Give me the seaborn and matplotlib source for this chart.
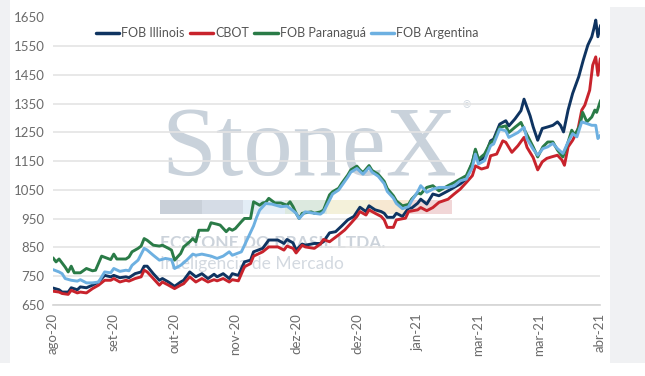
import pandas as pd
import numpy as np
import matplotlib.pyplot as plt
import seaborn as sns
from matplotlib.patches import Rectangle

#################################################################
# Dados - eixo x em dias de pregao
series = ['FOB Illinois', 'CBOT', 'FOB Paranaguá', 'FOB Argentina']
cores = ['#0f3461', '#c8232c', '#2a7b47', '#6db0e1']
tick_dias = [0, 20, 40, 60, 80, 100, 120, 140, 160, 180]
tick_labels = ['ago-20', 'set-20', 'out-20', 'nov-20', 'dez-20',
               'dez-20', 'jan-21', 'mar-21', 'mar-21', 'abr-21']

dias_illinois = [0, 2, 3, 5, 6, 8, 9, 11, 13, 15, 17, 19, 20, 22, 24, 25, 27, 29, 30, 31,
                 33, 35, 36, 38, 40, 42, 43, 45, 47, 49, 51, 53, 54, 56, 58, 59, 61, 63, 65, 66,
                 69, 71, 74, 76, 77, 79, 80, 82, 83, 86, 88, 89, 91,
                 93, 95, 97, 99, 101, 103, 104, 106, 108, 109, 110, 112, 113, 115, 117, 118, 120,
                 121, 123, 125, 127, 130, 132, 134, 136, 138, 139, 140, 142, 144, 145, 147, 149,
                 150, 152, 154, 155, 157,
                 158, 159.5, 161, 163, 164.5, 166, 167, 168, 169.5, 171, 173, 174.5, 176, 177.3,
                 178, 178.6, 179.3, 180.2]
fob_illinois = [709, 703, 695, 695, 710, 703, 713, 710, 719, 730, 753, 748, 753, 745, 748, 745, 759, 765, 785, 785,
                759, 736, 742, 730, 715, 730, 736, 765, 748, 759, 742, 757, 748, 759, 742, 759, 753, 800, 806, 835,
                847, 876, 876, 864, 878, 866, 841, 862, 858, 864, 864, 870, 901,
                905, 925, 946, 958, 990, 975, 995, 981, 975, 969, 955, 955, 969, 958, 987, 987, 1004,
                1018, 1001, 1036, 1030, 1047, 1059, 1071, 1088, 1146, 1187, 1152, 1163, 1221, 1227, 1279, 1291,
                1273, 1297, 1326, 1366, 1308,
                1270, 1223, 1264, 1270, 1275, 1287, 1275, 1252, 1328, 1386, 1444, 1502, 1554, 1583,
                1612, 1641, 1583, 1623]

dias_cbot = [0, 2, 3, 5, 6, 8, 9, 11, 13, 15, 17, 19, 20, 22, 24, 25, 27, 29, 30, 31,
             33, 35, 36, 38, 40, 42, 43, 45, 47, 49, 51, 53, 54, 56, 58, 59, 61, 63, 65, 66,
             69, 71, 74, 76, 77, 79, 80, 82, 83, 86, 88, 89, 91,
             94, 96, 98, 100, 101, 103, 104, 106, 108, 109, 110, 112, 113, 116, 117, 120,
             121, 123, 125, 127, 130, 132, 134, 136, 138, 139, 141, 143, 144, 146, 148, 149,
             151, 153, 155, 156, 158,
             159.5, 161, 162.5, 164, 166, 167.5, 168.3, 169.5, 171, 172.7, 174, 175, 176.6,
             177.6, 178.6, 179.3, 180.1]
cbot = [698, 695, 690, 687, 701, 692, 695, 692, 707, 719, 736, 736, 742, 730, 736, 733, 742, 748, 771, 765,
        742, 719, 730, 719, 707, 719, 724, 748, 730, 742, 730, 738, 734, 742, 730, 738, 734, 783, 794, 820,
        835, 852, 852, 841, 855, 847, 831, 858, 852, 847, 862, 878, 870,
        894, 911, 934, 958, 975, 963, 981, 969, 958, 946, 920, 920, 946, 952, 975, 981,
        989, 978, 989, 1007, 1018, 1036, 1053, 1076, 1100, 1134, 1123, 1129, 1169, 1175, 1221, 1216,
        1181, 1204, 1233, 1198, 1163,
        1120, 1148, 1160, 1165, 1171, 1154, 1136, 1200, 1223, 1258, 1328, 1345, 1397,
        1484, 1513, 1449, 1507]

dias_paranagua = [0, 1, 2, 4, 5, 6, 7, 9, 11, 13, 14, 16, 18, 19, 20, 21, 24, 25, 26, 28,
                  29, 30, 31, 33, 35, 36, 38, 39, 40, 42, 43, 45, 46, 47, 48, 51, 52, 54, 55, 57,
                  58, 59, 60, 62, 63, 65, 66, 68, 69, 70, 71, 73, 75, 77, 78, 79, 80, 81, 82, 85,
                  86, 88, 89, 91,
                  92, 94, 95, 97, 98, 100, 101, 102, 104, 105, 107, 109, 110, 112, 113, 115, 117, 118, 120,
                  121, 123, 125, 127, 130, 132, 134, 136, 138, 139, 140, 142, 144, 145, 147, 149,
                  150, 152, 154, 155, 157,
                  158, 159.5, 161.2, 162.8, 164.5, 166, 167.8, 169.5, 170.7, 171.7, 173.4, 174.3,
                  175.7, 177.3, 178.3, 178.9, 180.2]
fob_paranagua = [814, 800, 810, 782, 765, 785, 762, 762, 777, 769, 771, 820, 812, 808, 827, 810, 810, 817, 835, 847,
                 855, 881, 875, 858, 855, 858, 847, 841, 806, 829, 852, 870, 881, 870, 910, 910, 936, 931, 928, 905,
                 916, 910, 916, 940, 951, 951, 1009, 997, 1005, 1007, 1021, 1005, 1005, 997, 1009, 992, 969, 951, 969, 974,
                 969, 974, 980, 1033,
                 1044, 1056, 1073, 1102, 1120, 1133, 1120, 1110, 1135, 1118, 1105, 1080, 1055, 1030, 1012, 995, 1000, 1018, 1040,
                 1036, 1059, 1065, 1047, 1065, 1076, 1088, 1100, 1146, 1192, 1157, 1175, 1216, 1221, 1268, 1273,
                 1250, 1268, 1285, 1262, 1221,
                 1200, 1165, 1200, 1217, 1217, 1189, 1165, 1217, 1258, 1241, 1275, 1320,
                 1287, 1304, 1328, 1320, 1362]

dias_argentina = [0, 2, 3, 4, 6, 8, 9, 11, 13, 15, 17, 19, 20, 22, 24, 25, 26, 28, 30, 31,
                  33, 35, 37, 39, 40, 42, 44, 46, 47, 49, 52, 54, 56, 58, 59, 60, 62, 64, 66, 67,
                  68, 70, 72, 75, 77, 79, 80, 81, 83, 86, 88, 89, 91,
                  92, 94, 95, 97, 98, 100, 101, 102, 104, 105, 107, 109, 110, 112, 113, 115, 117, 118, 120,
                  121, 123, 125, 127, 130, 132, 134, 136, 138, 139, 140, 142, 144, 145, 147, 149,
                  150, 153, 155, 156,
                  158, 159.5, 161.2, 162.8, 164.5, 166, 167.8, 169.5, 171, 172.4, 174, 175.7,
                  177.3, 178.6, 179.3, 180.2]
fob_argentina = [773, 765, 759, 742, 736, 733, 738, 727, 727, 730, 765, 762, 777, 767, 771, 769, 788, 806, 847, 841,
                 823, 806, 812, 808, 777, 788, 806, 827, 823, 827, 820, 812, 820, 835, 823, 827, 835, 880, 925, 955,
                 980, 1003, 1001, 992, 994, 978, 969, 951, 974, 969, 966, 974, 1015,
                 1036, 1050, 1065, 1095, 1112, 1125, 1115, 1105, 1128, 1112, 1098, 1072, 1045, 1022, 1003, 985, 992, 1012, 1044,
                 1065, 1042, 1053, 1059, 1059, 1065, 1082, 1088, 1129, 1175, 1140, 1152, 1204, 1210, 1262, 1256,
                 1233, 1250, 1268, 1227,
                 1192, 1171, 1194, 1200, 1212, 1194, 1177, 1217, 1246, 1235, 1287, 1281,
                 1275, 1275, 1229, 1241]
#################################################################

frames = []
for nome, dias, valores in zip(series,
                               [dias_illinois, dias_cbot, dias_paranagua, dias_argentina],
                               [fob_illinois, cbot, fob_paranagua, fob_argentina]):
    frames.append(pd.DataFrame({'dia': dias, 'valor': valores, 'serie': nome}))
df = pd.concat(frames, ignore_index=True)

sns.set_style('white')
plt.rcParams['font.family'] = ['Lato', 'DejaVu Sans']

fig = plt.figure(figsize=(6.45, 3.76), dpi=100)
fig.patch.set_facecolor('white')

# paineis cinza nas bordas
fig.patches.append(Rectangle((0, 13 / 376), 10 / 645, 363 / 376, transform=fig.transFigure,
                             facecolor='#f0f1f3', edgecolor='none', zorder=0))
fig.patches.append(Rectangle((610 / 645, 13 / 376), 35 / 645, 356 / 376, transform=fig.transFigure,
                             facecolor='#f0f1f3', edgecolor='none', zorder=0))

ax = fig.add_axes([53 / 645, 71 / 376, 547 / 645, 287.5 / 376])

# marca d'agua
ax.text(0.199, 0.452, 'StoneX', transform=ax.transAxes, fontsize=71, family='Liberation Serif',
        color='#c9d2db', va='baseline', ha='left', zorder=0.5)
ax.text(0.748, 0.685, '®', transform=ax.transAxes, fontsize=7, color='#c9d2db', zorder=0.5)
faixa = ['#c9d0d9', '#d5dce6', '#e3edf6', '#dce9df', '#f4f1da', '#f7e8d2', '#f1d6d7']
for i, c in enumerate(faixa):
    ax.add_patch(Rectangle(((160 - 53) / 547 + i * 0.0763, 0.3165), 0.0763, 0.0485,
                           transform=ax.transAxes, facecolor=c, edgecolor='none', zorder=0.5))
ax.text(0.1956, 0.198, 'ECSTONE DO BRASIL LTDA.', transform=ax.transAxes, fontsize=12.5,
        fontweight='bold', color='#ccd3db', va='baseline', zorder=0.5)
ax.text(0.1956, 0.125, 'Inteligência de Mercado', transform=ax.transAxes, fontsize=12.5,
        fontweight='normal', color='#d3d9e0', va='baseline', zorder=0.5)

sns.lineplot(data=df, x='dia', y='valor', hue='serie', hue_order=series, palette=cores,
             linewidth=2.1, estimator=None, sort=False, ax=ax, zorder=3)

ax.set_xlim(0, 180)
ax.set_ylim(650, 1650)
ax.set_yticks(np.arange(650, 1651, 100))
ax.set_xticks(tick_dias)
ax.set_xticklabels(tick_labels)
ax.set_xlabel('')
ax.set_ylabel('')
ax.yaxis.grid(True, color='#e4e4e4', linewidth=1.2, zorder=0)
ax.xaxis.grid(False)
ax.set_axisbelow(True)
for s in ['top', 'right', 'left']:
    ax.spines[s].set_visible(False)
ax.spines['bottom'].set_color('#d4d4d4')
ax.spines['bottom'].set_linewidth(1.2)
ax.tick_params(axis='x', length=4, width=1, color='#d4d4d4', labelrotation=90,
               labelcolor='#6b6b6b', labelsize=9.5, pad=2)
ax.tick_params(axis='y', length=0, labelcolor='#6b6b6b', labelsize=9.5, pad=6)

handles, labels = ax.get_legend_handles_labels()
leg = ax.legend(handles, labels, loc='center', bbox_to_anchor=(0.428, 0.946), ncol=4,
                frameon=False, fontsize=9, handlelength=1.9, handletextpad=0.15,
                columnspacing=0.4, borderaxespad=0)
for line in leg.get_lines():
    line.set_linewidth(2.5)
for t in leg.get_texts():
    t.set_color('#555555')

fig.savefig('out.png', dpi=100, facecolor='white')
